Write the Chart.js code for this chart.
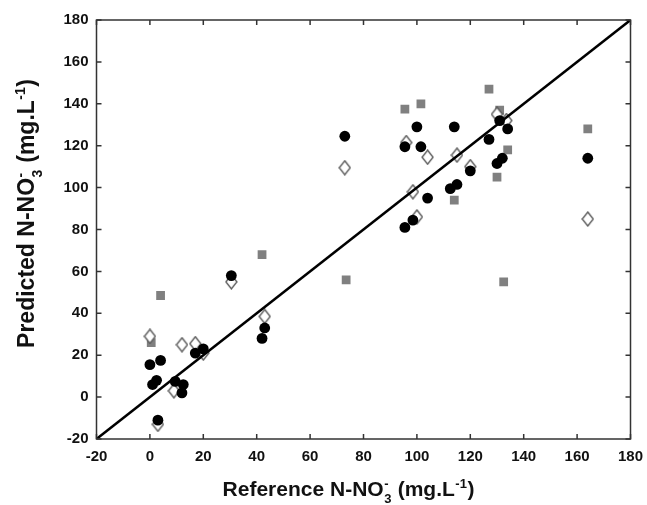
<!DOCTYPE html>
<html>
<head>
<meta charset="utf-8">
<script src="https://cdn.jsdelivr.net/npm/chart.js@4.4.1/dist/chart.umd.min.js"></script>
<style>
  html, body { margin: 0; padding: 0; background: #fff; }
  #wrap { width: 647px; height: 505px; }
</style>
</head>
<body>
<div id="wrap"><canvas id="myChart" width="647" height="505"></canvas></div>
<script>
// axis ticks
const tickValues = [-20, 0, 20, 40, 60, 80, 100, 120, 140, 160, 180];

// filled circles
const circleX = [0, 4, 1, 2.5, 3, 9.5, 12.5, 12, 17, 20, 30.5, 42, 43, 73, 100, 114, 95.5, 101.5, 127, 131, 134, 132, 130, 120, 115, 112.5, 104, 98.5, 95.5, 164];
const circleY = [15.5, 17.5, 6, 8, -11, 7.5, 6, 2, 21, 23, 58, 28, 33, 124.5, 129, 129, 119.5, 119.5, 123, 132, 128, 114, 111.5, 108, 101.5, 99.5, 95, 84.5, 81, 114];

// open diamonds
const diamondX = [0, 3, 9, 12, 17, 20, 30.5, 43, 73, 96, 104, 115, 120, 98.5, 100, 130, 133.5, 164];
const diamondY = [29, -13, 3, 25, 25.5, 21, 55, 38.5, 109.5, 121.5, 114.5, 115.5, 110, 98, 86, 135, 132, 85];

// grey squares
const squareX = [4, 0.5, 42, 73.5, 95.5, 101.5, 127, 131, 134, 130, 114, 164, 132.5];
const squareY = [48.5, 26, 68, 56, 137.5, 140, 147, 137, 118, 105, 94, 128, 55];

// 1:1 line
const lineX = [-20, 180];
const lineY = [-20, 180];

const toPoints = (xs, ys) => xs.map((x, i) => ({ x: x, y: ys[i] }));

// open diamond marker, a bit taller than wide
const diamond = document.createElement('canvas');
diamond.width = 13;
diamond.height = 16;
(function () {
  const c = diamond.getContext('2d');
  c.beginPath();
  c.moveTo(6.5, 1);
  c.lineTo(12, 8);
  c.lineTo(6.5, 15);
  c.lineTo(1, 8);
  c.closePath();
  c.fillStyle = '#fff';
  c.fill();
  c.lineWidth = 1.3;
  c.strokeStyle = '#555';
  c.stroke();
})();

const FONT = '"Liberation Sans", Arial, sans-serif';

// draw text with sub/superscripts, centred on 0
function drawRich(ctx, parts, size) {
  const big = 'bold ' + size + 'px ' + FONT;
  const small = 'bold ' + Math.round(size * 0.6) + 'px ' + FONT;
  const up = -size * 0.4, down = size * 0.33;
  const widths = parts.map(p => {
    if (p.t === 'n') { ctx.font = big; return ctx.measureText(p.s).width; }
    ctx.font = small;
    if (p.t === 'supsub') return Math.max(ctx.measureText(p.sup).width, ctx.measureText(p.sub).width) + 1;
    return ctx.measureText(p.s).width + 1;
  });
  const total = widths.reduce((a, b) => a + b, 0);
  let x = -total / 2;
  ctx.textAlign = 'left';
  ctx.textBaseline = 'alphabetic';
  parts.forEach((p, i) => {
    if (p.t === 'n') {
      ctx.font = big;
      ctx.fillText(p.s, x, 0);
    } else if (p.t === 'sup') {
      ctx.font = small;
      ctx.fillText(p.s, x + 0.5, up);
    } else if (p.t === 'supsub') {
      ctx.font = small;
      ctx.fillText(p.sup, x + 0.5, up);
      ctx.fillText(p.sub, x + 0.5, down);
    }
    x += widths[i];
  });
}

const nitrate = [
  { t: 'n', s: 'N-NO' },
  { t: 'supsub', sup: '-', sub: '3' },
  { t: 'n', s: ' (mg.L' },
  { t: 'sup', s: '-1' },
  { t: 'n', s: ')' }
];

// frame, inward ticks and axis titles
const framePlugin = {
  id: 'frame',
  afterDatasetsDraw(chart) {
    const { ctx, chartArea: a, scales } = chart;
    ctx.save();
    ctx.strokeStyle = '#333';
    ctx.lineWidth = 1.5;
    ctx.strokeRect(a.left, a.top, a.right - a.left, a.bottom - a.top);
    ctx.beginPath();
    tickValues.forEach(v => {
      const px = scales.x.getPixelForValue(v);
      ctx.moveTo(px, a.bottom); ctx.lineTo(px, a.bottom - 5);
      ctx.moveTo(px, a.top); ctx.lineTo(px, a.top + 5);
      const py = scales.y.getPixelForValue(v);
      ctx.moveTo(a.left, py); ctx.lineTo(a.left + 5, py);
      ctx.moveTo(a.right, py); ctx.lineTo(a.right - 5, py);
    });
    ctx.stroke();
    ctx.restore();
  },
  afterDraw(chart) {
    const { ctx, chartArea: a } = chart;
    ctx.save();
    ctx.fillStyle = '#111';
    // x title
    ctx.save();
    ctx.translate((a.left + a.right) / 2 - 15, a.bottom + 57);
    drawRich(ctx, [{ t: 'n', s: 'Reference ' }].concat(nitrate), 21);
    ctx.restore();
    // y title
    ctx.save();
    ctx.translate(34, (a.top + a.bottom) / 2 - 16);
    ctx.rotate(-Math.PI / 2);
    drawRich(ctx, [{ t: 'n', s: 'Predicted ' }].concat(nitrate), 23);
    ctx.restore();
    ctx.restore();
  }
};

const ctx = document.getElementById('myChart').getContext('2d');

new Chart(ctx, {
  type: 'scatter',
  data: {
    datasets: [
      {
        label: 'circles',
        data: toPoints(circleX, circleY),
        pointStyle: 'circle',
        pointRadius: 5.4,
        backgroundColor: '#000',
        borderColor: '#000',
        borderWidth: 0,
        order: 0
      },
      {
        type: 'line',
        label: '1:1',
        data: toPoints(lineX, lineY),
        borderColor: '#000',
        borderWidth: 2.5,
        pointRadius: 0,
        fill: false,
        order: 1
      },
      {
        label: 'diamonds',
        data: toPoints(diamondX, diamondY),
        pointStyle: diamond,
        order: 2
      },
      {
        label: 'squares',
        data: toPoints(squareX, squareY),
        pointStyle: 'rect',
        pointRadius: 6.2,
        backgroundColor: '#808080',
        borderColor: '#808080',
        borderWidth: 0,
        order: 3
      }
    ]
  },
  options: {
    responsive: false,
    animation: false,
    layout: { padding: { left: 0, right: 16.5, top: 20, bottom: 0 } },
    plugins: {
      legend: { display: false },
      tooltip: { enabled: false }
    },
    scales: {
      x: {
        type: 'linear',
        min: -20,
        max: 180,
        afterFit: s => { s.height = 66; s.paddingLeft = 0; s.paddingRight = 0; },
        afterBuildTicks: s => { s.ticks = tickValues.map(v => ({ value: v })); },
        grid: { display: false, drawTicks: false },
        border: { display: false },
        ticks: { padding: 9, color: '#111', font: { family: FONT, size: 15, weight: 'bold' } }
      },
      y: {
        type: 'linear',
        min: -20,
        max: 180,
        afterFit: s => { s.width = 96.5; s.paddingTop = 0; s.paddingBottom = 0; },
        afterBuildTicks: s => { s.ticks = tickValues.map(v => ({ value: v })); },
        grid: { display: false, drawTicks: false },
        border: { display: false },
        ticks: { padding: 8, color: '#111', font: { family: FONT, size: 15, weight: 'bold' } }
      }
    }
  },
  plugins: [framePlugin]
});
</script>
</body>
</html>
